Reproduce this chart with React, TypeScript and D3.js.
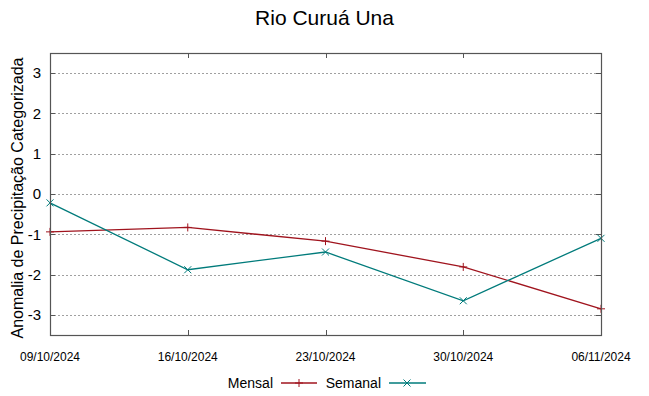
import React, { useEffect, useRef } from "react";
import * as d3 from "d3";

// datas semanais
const dates = ["09/10/2024", "16/10/2024", "23/10/2024", "30/10/2024", "06/11/2024"];
const mensal = [-0.94, -0.83, -1.17, -1.81, -2.85];
const semanal = [-0.22, -1.88, -1.44, -2.65, -1.1];
const yTicks = [-3, -2, -1, 0, 1, 2, 3];

const W = 649;
const H = 396;
const FONT = "'Liberation Sans', Arial, sans-serif";
const RED = "#a0141e";
const TEAL = "#007b7b";

const App = () => {
  const svgRef = useRef<SVGSVGElement | null>(null);

  useEffect(() => {
    const margin = { top: 53, right: 48, bottom: 61, left: 50 };
    const width = W - margin.left - margin.right;
    const height = H - margin.top - margin.bottom;

    const parse = d3.timeParse("%d/%m/%Y");
    const xs = dates.map((d) => parse(d) as Date);

    const x = d3.scaleTime().domain([xs[0], xs[xs.length - 1]]).range([0, width]);
    const y = d3.scaleLinear().domain([-3.5, 3.5]).range([height, 0]);

    const root = d3.select(svgRef.current);
    root.selectAll("*").remove();
    root.append("rect").attr("width", W).attr("height", H).attr("fill", "#fff");

    // titulo
    root.append("text")
      .attr("x", W / 2)
      .attr("y", 25)
      .attr("text-anchor", "middle")
      .attr("font-family", FONT)
      .attr("font-size", 21)
      .attr("fill", "#000")
      .text("Rio Curuá Una");

    const svg = root.append("g").attr("transform", `translate(${margin.left},${margin.top})`);

    // grade
    svg.append("g")
      .selectAll("line")
      .data(yTicks)
      .enter()
      .append("line")
      .attr("x1", 0)
      .attr("x2", width)
      .attr("y1", (d) => Math.round(y(d)) + 0.5)
      .attr("y2", (d) => Math.round(y(d)) + 0.5)
      .attr("stroke", "#a0a0a0")
      .attr("stroke-width", 1)
      .attr("stroke-dasharray", "2,2");

    // marcas do eixo y (esquerda e direita)
    const yTickG = svg.append("g").attr("stroke", "#555");
    yTicks.forEach((t) => {
      const yy = Math.round(y(t)) + 0.5;
      yTickG.append("line").attr("x1", 0).attr("x2", 5).attr("y1", yy).attr("y2", yy);
      yTickG.append("line").attr("x1", width - 5).attr("x2", width).attr("y1", yy).attr("y2", yy);
    });

    // marcas do eixo x (baixo e cima)
    const xTickG = svg.append("g").attr("stroke", "#555");
    xs.forEach((d) => {
      const xx = Math.round(x(d)) + 0.5;
      xTickG.append("line").attr("x1", xx).attr("x2", xx).attr("y1", height).attr("y2", height - 5);
      xTickG.append("line").attr("x1", xx).attr("x2", xx).attr("y1", 0).attr("y2", 5);
    });

    // rótulos y
    svg.append("g")
      .selectAll("text")
      .data(yTicks)
      .enter()
      .append("text")
      .attr("x", -9)
      .attr("y", (d) => y(d))
      .attr("dy", "0.35em")
      .attr("text-anchor", "end")
      .attr("font-family", FONT)
      .attr("font-size", 15)
      .attr("fill", "#000")
      .text((d) => d3.format("d")(d).replace("−", "-"));

    // rótulos x
    svg.append("g")
      .selectAll("text")
      .data(xs)
      .enter()
      .append("text")
      .attr("x", (d) => x(d))
      .attr("y", height + 26)
      .attr("text-anchor", "middle")
      .attr("font-family", FONT)
      .attr("font-size", 12)
      .attr("fill", "#000")
      .text(d3.timeFormat("%d/%m/%Y"));

    // titulo do eixo y
    svg.append("text")
      .attr("transform", `translate(${-27},${height / 2 + 4}) rotate(-90)`)
      .attr("text-anchor", "middle")
      .attr("font-family", FONT)
      .attr("font-size", 16)
      .attr("fill", "#000")
      .text("Anomalia de Precipitação Categorizada");

    const line = d3.line<number>()
      .x((_, i) => x(xs[i]))
      .y((d) => y(d));

    const plus = (g: any, cx: number, cy: number, color: string) => {
      g.append("path")
        .attr("d", `M${cx - 4},${cy}H${cx + 4}M${cx},${cy - 4}V${cy + 4}`)
        .attr("stroke", color)
        .attr("fill", "none");
    };
    const cross = (g: any, cx: number, cy: number, color: string) => {
      g.append("path")
        .attr("d", `M${cx - 3.5},${cy - 3.5}L${cx + 3.5},${cy + 3.5}M${cx - 3.5},${cy + 3.5}L${cx + 3.5},${cy - 3.5}`)
        .attr("stroke", color)
        .attr("fill", "none");
    };

    // séries
    svg.append("path")
      .datum(mensal)
      .attr("d", line)
      .attr("fill", "none")
      .attr("stroke", RED)
      .attr("stroke-width", 1.3);
    mensal.forEach((v, i) => plus(svg, x(xs[i]), y(v), RED));

    svg.append("path")
      .datum(semanal)
      .attr("d", line)
      .attr("fill", "none")
      .attr("stroke", TEAL)
      .attr("stroke-width", 1.3);
    semanal.forEach((v, i) => cross(svg, x(xs[i]), y(v), TEAL));

    // borda
    svg.append("rect")
      .attr("x", 0.5)
      .attr("y", 0.5)
      .attr("width", width)
      .attr("height", height)
      .attr("fill", "none")
      .attr("stroke", "#555")
      .attr("stroke-width", 1.2);

    // legenda
    const leg = root.append("g").attr("font-family", FONT).attr("font-size", 14);
    const ly = 383;
    leg.append("text").attr("x", 273).attr("y", ly + 5).attr("text-anchor", "end").text("Mensal");
    leg.append("line").attr("x1", 281).attr("x2", 317).attr("y1", ly).attr("y2", ly).attr("stroke", RED).attr("stroke-width", 1.3);
    plus(leg, 299, ly, RED);
    leg.append("text").attr("x", 381).attr("y", ly + 5).attr("text-anchor", "end").text("Semanal");
    leg.append("line").attr("x1", 389).attr("x2", 426).attr("y1", ly).attr("y2", ly).attr("stroke", TEAL).attr("stroke-width", 1.3);
    cross(leg, 407, ly, TEAL);
  }, []);

  return (
    <svg
      ref={svgRef}
      width={W}
      height={H}
      style={{ position: "absolute", left: 0, top: 0, display: "block" }}
    ></svg>
  );
};

export default App;
